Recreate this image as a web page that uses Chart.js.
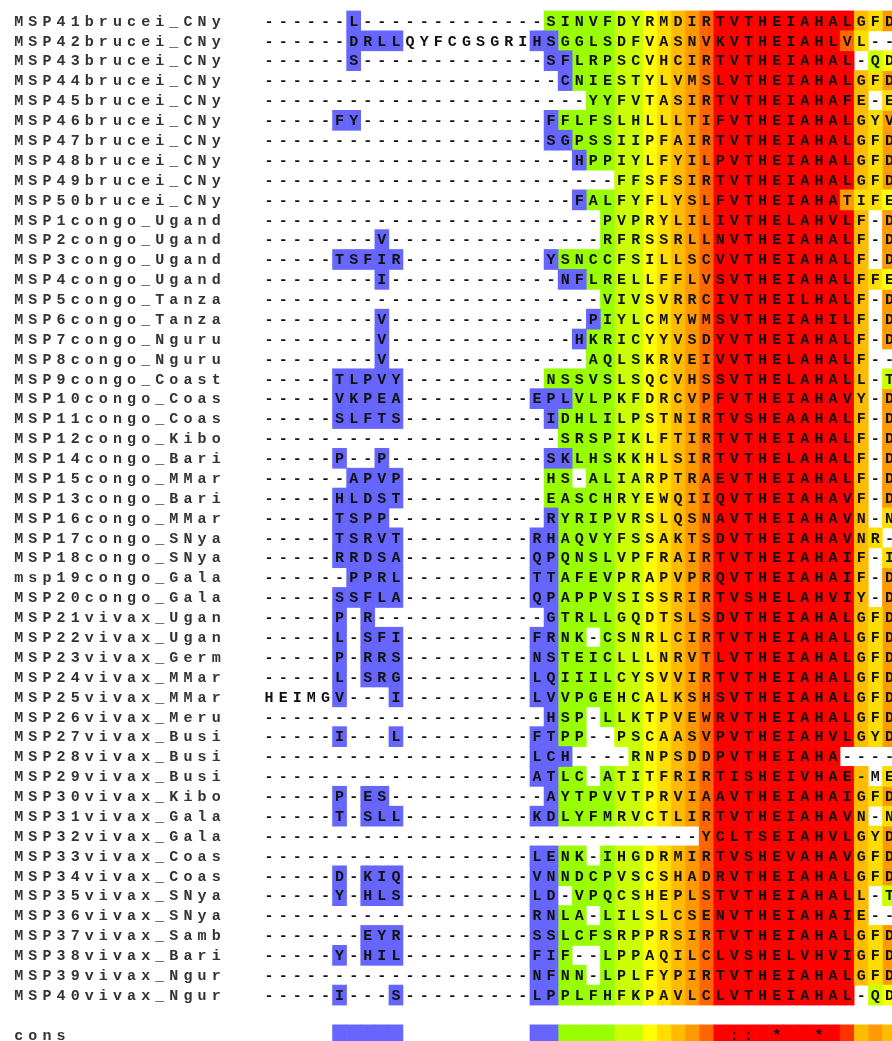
<!DOCTYPE html>
<html>
<head>
<meta charset="utf-8">
<title>MSP alignment</title>
<script src="https://cdn.jsdelivr.net/npm/chart.js@4.4.1/dist/chart.umd.min.js"></script>
<style>
  html, body { margin: 0; padding: 0; background: #fff; overflow: hidden; }
  canvas { display: block; }
</style>
</head>
<body>
<canvas id="alignChart" width="892" height="1041"></canvas>
<script>
// sequence names, top to bottom
const rowNames = [
    'MSP41brucei_CNy', 'MSP42brucei_CNy', 'MSP43brucei_CNy', 'MSP44brucei_CNy', 'MSP45brucei_CNy',
    'MSP46brucei_CNy', 'MSP47brucei_CNy', 'MSP48brucei_CNy', 'MSP49brucei_CNy', 'MSP50brucei_CNy',
    'MSP1congo_Ugand', 'MSP2congo_Ugand', 'MSP3congo_Ugand', 'MSP4congo_Ugand', 'MSP5congo_Tanza',
    'MSP6congo_Tanza', 'MSP7congo_Nguru', 'MSP8congo_Nguru', 'MSP9congo_Coast', 'MSP10congo_Coas',
    'MSP11congo_Coas', 'MSP12congo_Kibo', 'MSP14congo_Bari', 'MSP15congo_MMar', 'MSP13congo_Bari',
    'MSP16congo_MMar', 'MSP17congo_SNya', 'MSP18congo_SNya', 'msp19congo_Gala', 'MSP20congo_Gala',
    'MSP21vivax_Ugan', 'MSP22vivax_Ugan', 'MSP23vivax_Germ', 'MSP24vivax_MMar', 'MSP25vivax_MMar',
    'MSP26vivax_Meru', 'MSP27vivax_Busi', 'MSP28vivax_Busi', 'MSP29vivax_Busi', 'MSP30vivax_Kibo',
    'MSP31vivax_Gala', 'MSP32vivax_Gala', 'MSP33vivax_Coas', 'MSP34vivax_Coas', 'MSP35vivax_SNya',
    'MSP36vivax_SNya', 'MSP37vivax_Samb', 'MSP38vivax_Bari', 'MSP39vivax_Ngur', 'MSP40vivax_Ngur'
];

// residues, columns 0-18 + columns 19-44
const sequences = [
    '------L------------' + '-SINVFDYRMDIRTVTHEIAHALGFD',
    '------DRLLQYFCGSGRI' + 'HSGGLSDFVASNVKVTHEIAHLVL--',
    '------S------------' + '-SFLRPSCVHCIRTVTHEIAHAL-QD',
    '-------------------' + '--CNIESTYLVMSLVTHEIAHALGFD',
    '-------------------' + '----YYFVTASIRTVTHEIAHAFE-E',
    '-----FY------------' + '-FFLFSLHLLLTIFVTHEIAHALGYV',
    '-------------------' + '-SGPSSIIPFAIRTVTHEIAHALGFD',
    '-------------------' + '---HPPIYLFYILPVTHEIAHALGFD',
    '-------------------' + '------FFSFSIRTVTHEIAHALGFD',
    '-------------------' + '---FALFYFLYSLFVTHEIAHATIFE',
    '-------------------' + '-----PVPRYLILIVTHELAHVLF-D',
    '--------V----------' + '-----RFRSSRLLNVTHEIAHALF-D',
    '-----TSFIR---------' + '-YSNCCFSILLSCVVTHEIAHALF-D',
    '--------I----------' + '--NFLRELLFFLVSVTHEIAHALFFE',
    '-------------------' + '-----VIVSVRRCIVTHEILHALF-D',
    '--------V----------' + '----PIYLCMYWMSVTHEIAHILF-D',
    '--------V----------' + '---HKRICYYVSDYVTHEIAHALF-D',
    '--------V----------' + '----AQLSKRVEIVVTHELAHALF--',
    '-----TLPVY---------' + '-NSSVSLSQCVHSSVTHELAHALL-T',
    '-----VKPEA---------' + 'EPLVLPKFDRCVPFVTHEIAHAVY-D',
    '-----SLFTS---------' + '-IDHLILPSTNIRTVSHEAAHALF-D',
    '-------------------' + '--SRSPIKLFTIRTVTHEIAHALF-D',
    '-----P--P----------' + '-SKLHSKKHLSIRTVTHELAHALF-D',
    '------APVP---------' + '-HS-ALIARPTRAEVTHEIAHALF-D',
    '-----HLDST---------' + '-EASCHRYEWQIIQVTHEIAHAVF-D',
    '-----TSPP----------' + '-RYRIPVRSLQSNAVTHEIAHAVN-N',
    '-----TSRVT---------' + 'RHAQVYFSSAKTSDVTHEIAHAVNR-',
    '-----RRDSA---------' + 'QPQNSLVPFRAIRTVTHEIAHAIF-I',
    '------PPRL---------' + 'TTAFEVPRAPVPRQVTHEIAHAIF-D',
    '-----SSFLA---------' + 'QPAPPVSISSRIRTVSHELAHVIY-D',
    '-----P-R-----------' + '-GTRLLGQDTSLSDVTHEIAHALGFD',
    '-----L-SFI---------' + 'FRNK-CSNRLCIRTVTHEIAHALGFD',
    '-----P-RRS---------' + 'NSTEICLLLNRVTLVTHEIAHALGFD',
    '-----L-SRG---------' + 'LQIIILCYSVVIRTVTHEIAHALGFD',
    'HEIMGV---I---------' + 'LVVPGEHCALKSHSVTHEIAHALGFD',
    '-------------------' + '-HSP-LLKTPVEWRVTHEIAHALGFD',
    '-----I---L---------' + 'FTPP--PSCAASVPVTHEIAHVLGYD',
    '-------------------' + 'LCH----RNPSDDPVTHEIAHA----',
    '-------------------' + 'ATLC-ATITFRIRTISHEIVHAE-ME',
    '-----P-ES----------' + '-AYTPVVTPRVIAAVTHEIAHAIGFD',
    '-----T-SLL---------' + 'KDLYFMRVCTLIRTVTHEIAHAVN-N',
    '-------------------' + '------------YCLTSEIAHVLGYD',
    '-------------------' + 'LENK-IHGDRMIRTVSHEVAHAVGFD',
    '-----D-KIQ---------' + 'VNNDCPVSCSHADRVTHEIAHALGFD',
    '-----Y-HLS---------' + 'LD-VPQCSHEPLSTVTHEIAHALL-T',
    '-------------------' + 'RNLA-LILSLCSENVTHEIAHAIE--',
    '-------EYR---------' + 'SSLCFSRPPRSIRTVTHEIAHALGFD',
    '-----Y-HIL---------' + 'FIF--LPPAQILCLVSHELVHVIGFD',
    '-------------------' + 'NFNN-LPLFYPIRTVTHEIAHALGFD',
    '-----I---S---------' + 'LPPLFHFKPAVLCLVTHEIAHAL-QD'
];

// consistency score of every cell (0 low ... 9 high), '.' = no colour
const scores = [
    '......0............' + '.1' + '11112234567999999999' + '9546',
    '......0000.........' + '00' + '11112234567999999999' + '74..',
    '......0............' + '.0' + '01112234567999999999' + '9.23',
    '...................' + '..' + '01112234567999999999' + '9546',
    '...................' + '..' + '..112234567999999999' + '95.4',
    '.....00............' + '.0' + '11112234567999999999' + '9546',
    '...................' + '.0' + '01112234567999999999' + '9546',
    '...................' + '..' + '.0112234567999999999' + '9546',
    '...................' + '..' + '....2234567999999999' + '9546',
    '...................' + '..' + '.0112234567999999999' + '6443',
    '...................' + '..' + '...12234567999999999' + '95.6',
    '........0..........' + '..' + '...12234567999999999' + '95.6',
    '.....00000.........' + '.0' + '11112234567999999999' + '95.6',
    '........0..........' + '..' + '00112234567999999999' + '9543',
    '...................' + '..' + '...12234567999999999' + '95.6',
    '........0..........' + '..' + '..012234567999999999' + '95.6',
    '........0..........' + '..' + '.0112234567999999999' + '95.6',
    '........0..........' + '..' + '..112234567999999999' + '95..',
    '.....00000.........' + '.1' + '11112234567999999999' + '95.2',
    '.....00000.........' + '00' + '01112234567999999999' + '95.6',
    '.....00000.........' + '.0' + '11112234567999999999' + '95.6',
    '...................' + '..' + '11112234567999999999' + '95.6',
    '.....0..0..........' + '.0' + '01112234567999999999' + '95.6',
    '......0000.........' + '.1' + '1.112234567999999999' + '95.6',
    '.....00000.........' + '.1' + '11112234567999999999' + '95.6',
    '.....0000..........' + '.0' + '11112234567999999999' + '95.4',
    '.....00000.........' + '00' + '11112234567999999999' + '954.',
    '.....00000.........' + '00' + '11112234567999999999' + '95.4',
    '......0000.........' + '00' + '11112234567999999999' + '95.6',
    '.....00000.........' + '00' + '11112234567999999999' + '95.6',
    '.....0.0...........' + '.0' + '11112234567999999999' + '9546',
    '.....0.000.........' + '00' + '11.12234567999999999' + '9546',
    '.....0.000.........' + '00' + '11112234567999999999' + '9546',
    '.....0.000.........' + '00' + '11112234567999999999' + '9546',
    '.....0...0.........' + '00' + '11112234567999999999' + '9546',
    '...................' + '.0' + '11.12234567999999999' + '9546',
    '.....0...0.........' + '00' + '11..2234567999999999' + '9546',
    '...................' + '00' + '0....234567999999999' + '....',
    '...................' + '00' + '11.12234567999999999' + '95.4',
    '.....0.00..........' + '.0' + '11112234567999999999' + '9546',
    '.....0.000.........' + '00' + '11112234567999999999' + '95.4',
    '...................' + '..' + '..........7999999999' + '9546',
    '...................' + '00' + '11.12234567999999999' + '9546',
    '.....0.000.........' + '00' + '11112234567999999999' + '9546',
    '.....0.000.........' + '00' + '.1112234567999999999' + '95.2',
    '...................' + '00' + '11.12234567999999999' + '95..',
    '.......000.........' + '00' + '11112234567999999999' + '9546',
    '.....0.000.........' + '00' + '1..12234567999999999' + '9546',
    '...................' + '00' + '11.12234567999999999' + '9546',
    '.....0...0.........' + '00' + '11112234567999999999' + '9.23'
];

// consensus line
const consLabel = 'cons';
const consSymbols = '                                 :: *  *     ';
const consScores = '.....00000.........' + '00' + '11112234567999999999' + '8565';

// score -> background colour
const scoreColors = [
    '#6666FF', '#99FF00', '#CCFF00', '#FFFF00', '#FFDD00',
    '#FFBB00', '#FF9900', '#FF6600', '#FF3300', '#FF0000'
];

const CONS_ROW = rowNames.length + 1;
const LABEL_START = -17.75;   // x value of the first label character

/**
 * Turn the score strings into one floating-bar dataset per colour
 * @returns {Array} datasets
 */
function buildDatasets() {
    const cells = scoreColors.map(() => []);
    const addRow = (scoreStr, row) => {
        for (let c = 0; c < scoreStr.length; c++) {
            const s = scoreStr[c];
            if (s === '.') continue;
            cells[Number(s)].push({ x: [c - 0.52, c + 0.52], y: row });
        }
    };
    scores.forEach((s, i) => addRow(s, i));
    addRow(consScores, CONS_ROW);

    return cells.map((data, level) => ({
        label: 'score ' + level,
        data,
        backgroundColor: scoreColors[level],
        borderWidth: 0,
        grouped: false,
        categoryPercentage: 1,
        barPercentage: 1.04
    }));
}

// draws residues, names and consensus symbols at the scale positions
const letterPlugin = {
    id: 'letters',
    afterDatasetsDraw(chart) {
        const { ctx, scales: { x, y } } = chart;
        ctx.save();
        ctx.font = 'bold 15px "Liberation Mono", monospace';
        ctx.textAlign = 'center';
        ctx.textBaseline = 'middle';

        const drawChars = (text, start, row, color) => {
            ctx.fillStyle = color;
            const py = y.getPixelForValue(row) + 1;
            for (let k = 0; k < text.length; k++) {
                if (text[k] === ' ') continue;
                ctx.fillText(text[k], x.getPixelForValue(start + k), py);
            }
        };

        rowNames.forEach((name, i) => {
            drawChars(name, LABEL_START, i, '#333');
            drawChars(sequences[i], 0, i, '#111');
        });
        drawChars(consLabel, LABEL_START, CONS_ROW, '#333');
        drawChars(consSymbols, 0, CONS_ROW, '#111');
        ctx.restore();
    }
};

const ctx = document.getElementById('alignChart').getContext('2d');
new Chart(ctx, {
    type: 'bar',
    data: { datasets: buildDatasets() },
    options: {
        indexAxis: 'y',
        responsive: false,
        animation: false,
        events: [],
        layout: { padding: 0 },
        scales: {
            x: { type: 'linear', min: -19.08, max: 44.18, offset: false, display: false },
            y: { type: 'linear', min: -1.053, max: 51.31, reverse: true, offset: false, display: false }
        },
        plugins: {
            legend: { display: false },
            tooltip: { enabled: false }
        }
    },
    plugins: [letterPlugin]
});
</script>
</body>
</html>
